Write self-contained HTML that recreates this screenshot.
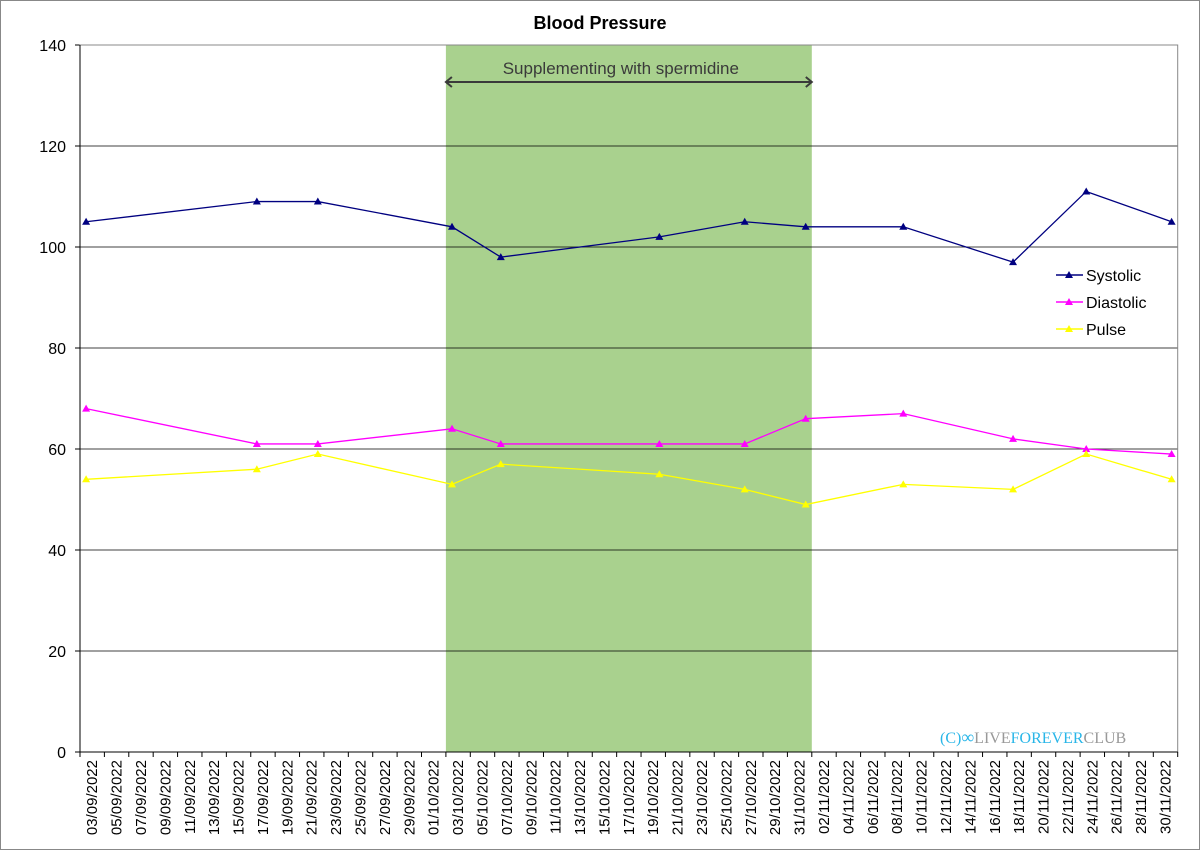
<!DOCTYPE html>
<html><head><meta charset="utf-8"><style>
body{margin:0;background:#fff;}
svg{display:block;font-family:"Liberation Sans",Arial,sans-serif;}
</style></head><body>
<svg id="chart" width="1200" height="850" viewBox="0 0 1200 850" xmlns="http://www.w3.org/2000/svg">
<rect x="0.5" y="0.5" width="1199" height="849" fill="#fff" stroke="#888"/>
<text x="600" y="29" text-anchor="middle" font-size="18" font-weight="bold">Blood Pressure</text>
<g id="shade"></g>
<g id="grid"></g>
<g id="axes"></g>
<g id="series"></g>
<g id="legend"></g>
<text x="940" y="743" font-family="Liberation Serif,serif" font-size="16"><tspan fill="#29b6e8">(C)</tspan><tspan fill="#29b6e8" font-size="18">∞</tspan><tspan fill="#999">LIVE</tspan><tspan fill="#29b6e8">FOREVER</tspan><tspan fill="#999">CLUB</tspan></text>
</svg>
<script>
const startDay = [3, 9, 2022];
const numDays = 90;
const pointDays = [0, 14, 19, 30, 34, 47, 54, 59, 67, 76, 82, 89];
const systolic = [105, 109, 109, 104, 98, 102, 105, 104, 104, 97, 111, 105];
const diastolic = [68, 61, 61, 64, 61, 61, 61, 66, 67, 62, 60, 59];
const pulse = [54, 56, 59, 53, 57, 55, 52, 49, 53, 52, 59, 54];
const yTicks = [0, 20, 40, 60, 80, 100, 120, 140];
const shadeDays = [30, 60];

const NS = "http://www.w3.org/2000/svg";
const L = 80, R = 1177.7, T = 45, B = 752;
const dayW = (R - L) / numDays;
const xB = d => L + d * dayW;
const xC = d => L + (d + 0.5) * dayW;
const y = v => B - v / 140 * (B - T);
function mk(tag, attrs, parent) {
  const e = document.createElementNS(NS, tag);
  for (const k in attrs) e.setAttribute(k, attrs[k]);
  parent.appendChild(e);
  return e;
}
const shade = document.getElementById('shade');
const sh = mk('rect', {x: xB(shadeDays[0]), y: T, width: xB(shadeDays[1]) - xB(shadeDays[0]), height: B - T, fill: '#a9d18e'}, shade);


const ay = 82;
const arr = mk('path', {d: `M${xB(shadeDays[0])} ${ay}H${xB(shadeDays[1])}M${xB(shadeDays[0])+6} ${ay-5}L${xB(shadeDays[0])} ${ay}L${xB(shadeDays[0])+6} ${ay+5}M${xB(shadeDays[1])-6} ${ay-5}L${xB(shadeDays[1])} ${ay}L${xB(shadeDays[1])-6} ${ay+5}`, stroke: '#3a3a3a', 'stroke-width': 2, fill: 'none'}, shade);


const lab = mk('text', {x: (xB(shadeDays[0]) + xB(shadeDays[1])) / 2 - 8, y: 74, 'text-anchor': 'middle', 'font-size': 17, fill: '#3a3a3a'}, shade);
lab.textContent = 'Supplementing with spermidine';



const grid = document.getElementById('grid');
const axes = document.getElementById('axes');
yTicks.forEach(v => {
  if (v > 0) {
    const g = mk('line', {x1: L, x2: R, y1: y(v), y2: y(v), stroke: '#000', 'stroke-width': 0.8}, grid);
    
    
  }
  mk('line', {x1: L - 5, x2: L, y1: y(v), y2: y(v), stroke: '#000'}, axes);
  const t = mk('text', {x: 66, y: y(v) + 6, 'text-anchor': 'end', 'font-size': 16}, axes);
  t.textContent = v;
  
  
});
mk('rect', {x: L, y: T, width: R - L, height: B - T, fill: 'none', stroke: '#888'}, axes);
const ax = mk('line', {x1: L, x2: L, y1: T, y2: B, stroke: '#000'}, axes);


const bx = mk('line', {x1: L, x2: R, y1: B, y2: B, stroke: '#000'}, axes);


const base = new Date(startDay[2], startDay[1] - 1, startDay[0]);
for (let d = 0; d <= numDays; d += 2) {
  mk('line', {x1: xB(d), x2: xB(d), y1: B, y2: B + 5, stroke: '#000'}, axes);
  if (d < numDays) {
    const dt = new Date(base.getTime()); dt.setDate(base.getDate() + d);
    const s = String(dt.getDate()).padStart(2, '0') + '/' + String(dt.getMonth() + 1).padStart(2, '0') + '/' + dt.getFullYear();
    const cx = xB(d + 1) + 5;
    const t = mk('text', {x: cx, y: 760, 'text-anchor': 'end', 'font-size': 15, transform: `rotate(-90 ${cx} 760)`}, axes);
    t.textContent = s;
    
    
  }
}
const series = document.getElementById('series');
const defs = [['systolic', systolic, '#000080'], ['diastolic', diastolic, '#ff00ff'], ['pulse', pulse, '#ffff00']];
function tri(px, py, c, parent) {
  return mk('path', {d: `M${px} ${py-4}L${px+4} ${py+3}L${px-4} ${py+3}Z`, fill: c}, parent);
}
defs.forEach(([name, vals, c]) => {
  const g = mk('g', {}, series);
  
  
  const pts = vals.map((v, i) => xC(pointDays[i]) + ',' + y(v)).join(' ');
  const pl = mk('polyline', {points: pts, fill: 'none', stroke: c, 'stroke-width': 1.3}, g);
  
  
  vals.forEach((v, i) => {
    const m = tri(xC(pointDays[i]), y(v), c, g);
    
    
  });
});
const leg = document.getElementById('legend');
[['Systolic', '#000080'], ['Diastolic', '#ff00ff'], ['Pulse', '#ffff00']].forEach(([n, c], i) => {
  const ly = 275 + i * 27;
  const g = mk('g', {}, leg);
  
  
  mk('line', {x1: 1056, x2: 1083, y1: ly, y2: ly, stroke: c, 'stroke-width': 1.5}, g);
  tri(1069, ly, c, g);
  const t = mk('text', {x: 1086, y: ly + 6, 'font-size': 16}, g);
  t.textContent = n;
});
</script>
</body></html>
